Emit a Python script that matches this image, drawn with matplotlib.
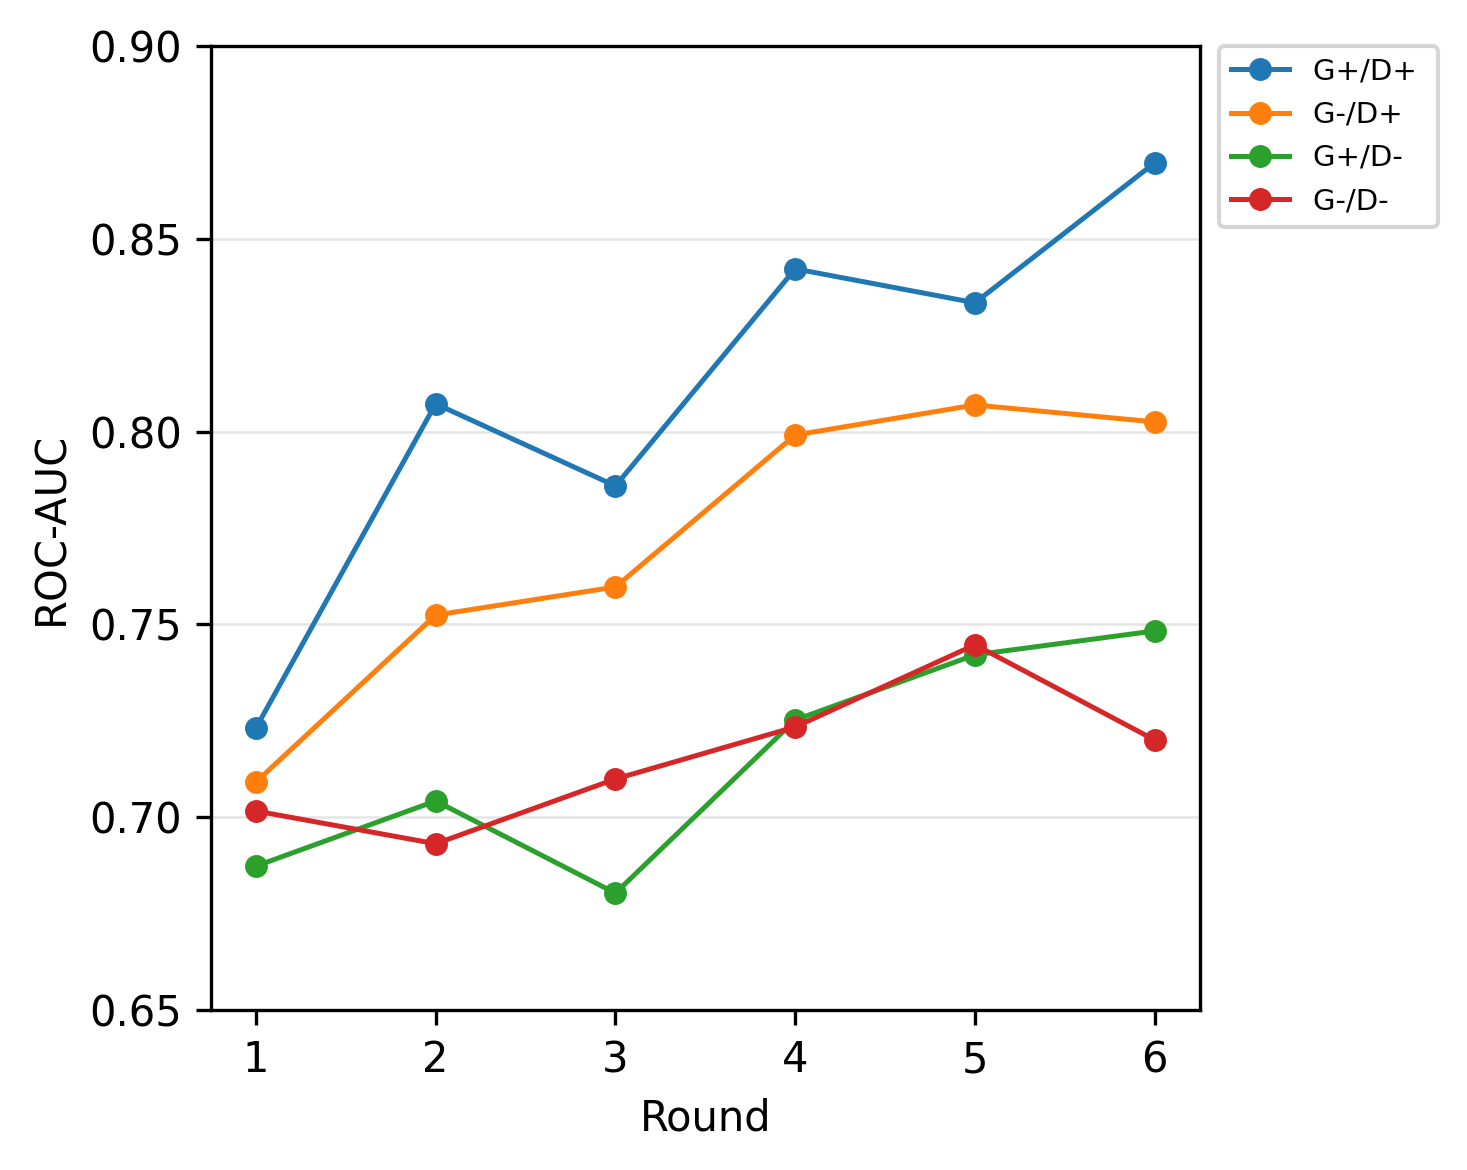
import matplotlib
matplotlib.use("Agg")
import matplotlib.pyplot as plt

rounds = [1, 2, 3, 4, 5, 6]
labels = ["G+/D+", "G-/D+", "G+/D-", "G-/D-"]
gp_dp = [0.7231, 0.8072, 0.7859, 0.8422, 0.8334, 0.8697]
gm_dp = [0.7091, 0.7524, 0.7597, 0.7991, 0.8069, 0.8025]
gp_dm = [0.6873, 0.7042, 0.6803, 0.7252, 0.7421, 0.7483]
gm_dm = [0.7016, 0.6931, 0.7099, 0.7234, 0.7447, 0.7200]

fig = plt.figure(figsize=(4.89, 3.9), dpi=300)
ax = fig.add_axes([0.1438, 0.1368, 0.674, 0.8239])

for lab, vals in zip(labels, [gp_dp, gm_dp, gp_dm, gm_dm]):
    ax.plot(rounds, vals, marker="o", markersize=4.5, linewidth=1.2, label=lab)

ax.set_ylim(0.65, 0.90)
ax.set_xticks(rounds)
ax.set_xlabel("Round")
ax.set_ylabel("ROC-AUC")
ax.yaxis.grid(True, color="#e5e5e5", linewidth=0.6)
ax.set_axisbelow(True)
leg = ax.legend(loc="upper left", bbox_to_anchor=(1.02, 1.0), fontsize=7,
                borderaxespad=0, labelspacing=0.52)
# a little more room on the right, as in the original
for t in leg.get_texts():
    t.set_text(t.get_text() + " ")

fig.savefig("out.png", dpi=300)
